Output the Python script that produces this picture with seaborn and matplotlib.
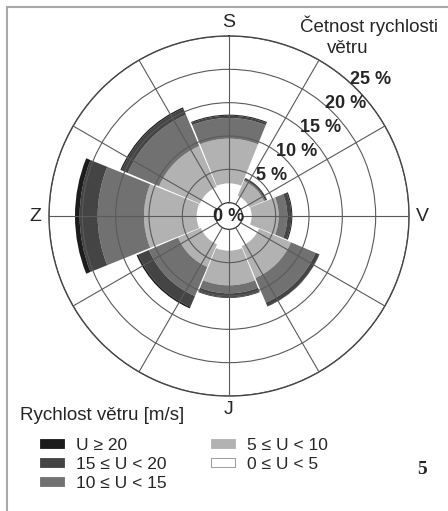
import numpy as np
import pandas as pd
import matplotlib
matplotlib.use("Agg")
import matplotlib.pyplot as plt
import seaborn as sns
from matplotlib.patches import Patch
from matplotlib.lines import Line2D

# directions (Czech: S = north, V = east, J = south, Z = west)
directions = ["S", "SV", "V", "JV", "J", "JZ", "Z", "SZ"]
dir_angles = [0, 45, 90, 135, 180, 225, 270, 315]

# frequency [%] per speed class
u_0_5 = [2.9, 1.3, 1.4, 2.9, 3.2, 2.6, 2.85, 2.75]
u_5_10 = [6.7, 2.4, 4.05, 5.2, 5.2, 3.7, 7.9, 6.65]
u_10_15 = [3.1, 0.2, 1.3, 4.0, 1.2, 4.75, 6.95, 5.1]
u_15_20 = [0.35, 0.3, 0.6, 0.6, 0.6, 1.75, 2.7, 1.0]
u_20 = [0.15, 0.0, 0.15, 0.05, 0.1, 0.25, 0.7, 0.2]

class_labels = ["0 ≤ U < 5", "5 ≤ U < 10", "10 ≤ U < 15", "15 ≤ U < 20", "U ≥ 20"]
class_colors = ["#ffffff", "#b2b2b2", "#717171", "#444444", "#1c1c1c"]

ring_values = [5, 10, 15, 20, 25]
compass_labels = ["S", "V", "J", "Z"]
compass_angles = [0, 90, 180, 270]


def make_table():
    df = pd.DataFrame({
        class_labels[0]: u_0_5,
        class_labels[1]: u_5_10,
        class_labels[2]: u_10_15,
        class_labels[3]: u_15_20,
        class_labels[4]: u_20,
    }, index=directions)
    return df


def draw_rose(df):
    sns.set_style("white")
    plt.rcParams["font.family"] = ["Liberation Sans", "DejaVu Sans"]

    fig = plt.figure(figsize=(4.48, 5.11), dpi=100)
    ax = fig.add_axes([49 / 448, 115 / 511, 360 / 448, 360 / 511], projection="polar")
    ax.set_theta_zero_location("N")
    ax.set_theta_direction(-1)
    ax.set_ylim(0, 25)
    ax.set_rorigin(-2.0)

    theta = np.deg2rad(dir_angles)
    bottom = np.zeros(len(df))
    for label, color in zip(class_labels, class_colors):
        vals = df[label].values
        ax.bar(theta, vals, width=np.deg2rad(44), bottom=bottom,
               color=color, linewidth=0, zorder=1)
        bottom += vals

    # grid on top of the bars
    ax.set_xticks(np.deg2rad(np.arange(0, 360, 30)))
    ax.set_xticklabels([])
    ax.set_yticks(ring_values)
    ax.set_yticklabels([])
    ax.set_axisbelow(False)
    ax.grid(True, color="#5a5a5a", linewidth=0.8)
    ax.spines["polar"].set_color("#333333")
    ax.spines["polar"].set_linewidth(1.0)
    ax.spines["inner"].set_color("#333333")
    ax.spines["inner"].set_linewidth(0.9)

    for v in ring_values:
        ax.text(np.deg2rad(46), v * 1.03 + 1.7, f"{v} %", ha="center", va="center",
                fontsize=13, fontweight="bold", zorder=5)
    ax.text(0.5, 0.5, "0 %", transform=ax.transAxes, ha="center", va="center",
            fontsize=13, fontweight="bold", zorder=5)

    for lab, a in zip(compass_labels, compass_angles):
        ax.text(np.deg2rad(a), 27.0, lab, ha="center", va="center", fontsize=14)

    # titles
    fig.text(369 / 448, 1 - 32 / 511, "Četnost rychlosti", ha="center", va="baseline", fontsize=13.5)
    fig.text(348 / 448, 1 - 53 / 511, "větru", ha="center", va="baseline", fontsize=13.5)
    fig.text(20 / 448, 1 - 420 / 511, "Rychlost větru [m/s]", ha="left", va="baseline", fontsize=13.5)

    # legend, strongest class first
    handles = []
    for label, color in zip(class_labels[::-1], class_colors[::-1]):
        edge = "#8a8a8a" if color == "#ffffff" else color
        handles.append(Patch(facecolor=color, edgecolor=edge, linewidth=0.6, label=label))
    fig.legend(handles=handles, ncol=2, loc="upper left",
               bbox_to_anchor=(40 / 448, 1 - 438 / 511), frameon=False,
               borderpad=0, borderaxespad=0, handlelength=1.4, handleheight=0.45,
               handletextpad=0.67, columnspacing=2.55, labelspacing=0.22, fontsize=12.5)

    fig.text(422 / 448, 1 - 470 / 511, "5", ha="center", va="center",
             fontsize=14, fontweight="bold", family=["Liberation Serif", "DejaVu Serif"])

    # light frame at top and left edge
    fig.add_artist(Line2D([7 / 448, 1], [1 - 7 / 511, 1 - 7 / 511],
                          transform=fig.transFigure, color="#a8a8a8", linewidth=1.5))
    fig.add_artist(Line2D([7 / 448, 7 / 448], [0, 1 - 7 / 511],
                          transform=fig.transFigure, color="#a8a8a8", linewidth=1.5))

    fig.savefig("out.png", dpi=100)


def main():
    df = make_table()
    draw_rose(df)


if __name__ == "__main__":
    main()
